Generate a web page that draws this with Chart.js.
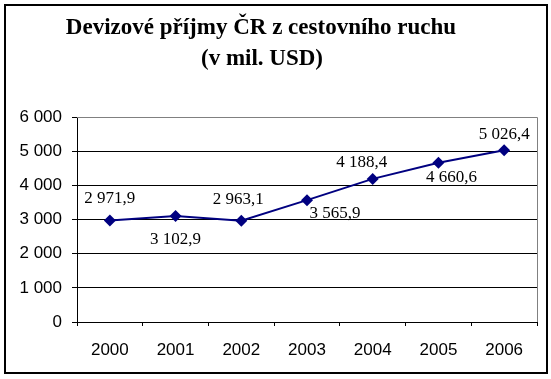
<!DOCTYPE html>
<html>
<head>
<meta charset="utf-8">
<script src="https://cdn.jsdelivr.net/npm/chart.js@4.4.1/dist/chart.umd.min.js"></script>
<style>
  html, body { margin: 0; padding: 0; background: #fff; }
  #wrap { position: relative; width: 551px; height: 379px; }
</style>
</head>
<body>
<div id="wrap"><canvas id="chart" width="551" height="379"></canvas></div>
<script>
// Dati: devizové příjmy ČR z cestovního ruchu (mil. USD)
const roky = ['2000', '2001', '2002', '2003', '2004', '2005', '2006'];
const prijmy = [2971.9, 3102.9, 2963.1, 3565.9, 4188.4, 4660.6, 5026.4];
const titulek = ['Devizové příjmy ČR z cestovního ruchu', '(v mil. USD)'];

// formát čísla: mezera jako oddělovač tisíců, čárka jako desetinná
function formatCZ(v, des) {
    const parts = v.toFixed(des).split('.');
    parts[0] = parts[0].replace(/\B(?=(\d{3})+(?!\d))/g, ' ');
    return parts.join(',');
}

// posun popisků vůči bodům (jako v Excelu: střídavě nad / pod)
const posunPopisku = [[0, -22], [0, 24], [-3, -21], [28, 13], [-11, -16], [13, 15], [0, -16]];

const ramecek = {
    id: 'ramecek',
    beforeDatasetsDraw(chart) {
        const { ctx, chartArea: a } = chart;
        ctx.save();
        ctx.strokeStyle = '#808080';
        ctx.lineWidth = 1;
        ctx.beginPath();
        ctx.moveTo(a.left, a.top + 0.5);
        ctx.lineTo(a.right + 0.5, a.top + 0.5);
        ctx.lineTo(a.right + 0.5, a.bottom);
        ctx.stroke();
        ctx.restore();
    },
    afterDraw(chart) {
        const ctx = chart.ctx;
        ctx.save();
        // vnější rámeček
        ctx.strokeStyle = '#000';
        ctx.lineWidth = 2;
        ctx.strokeRect(5, 5, 542, 368);
        // nadpis (ve středu celého obrázku, ne plochy grafu)
        ctx.fillStyle = '#000';
        ctx.font = 'bold 23px "Liberation Serif", "Times New Roman", serif';
        ctx.textAlign = 'center';
        ctx.textBaseline = 'alphabetic';
        ctx.fillText(titulek[0], 261, 34);
        ctx.fillText(titulek[1], 262, 65);
        ctx.restore();
    }
};

const popisky = {
    id: 'popisky',
    afterDatasetsDraw(chart) {
        const ctx = chart.ctx;
        const meta = chart.getDatasetMeta(0);
        ctx.save();
        ctx.font = '17px "Liberation Serif", "Times New Roman", serif';
        ctx.fillStyle = '#000';
        ctx.textAlign = 'center';
        ctx.textBaseline = 'middle';
        meta.data.forEach((pt, i) => {
            const [dx, dy] = posunPopisku[i];
            ctx.fillText(formatCZ(prijmy[i], 1), pt.x + dx, pt.y + dy);
        });
        ctx.restore();
    }
};

new Chart(document.getElementById('chart'), {
    type: 'line',
    data: {
        labels: roky,
        datasets: [{
            data: prijmy,
            borderColor: '#000080',
            backgroundColor: '#000080',
            borderWidth: 2,
            pointStyle: 'rectRot',
            pointRadius: 6,
            pointBorderWidth: 0,
            tension: 0
        }]
    },
    options: {
        responsive: false,
        animation: false,
        layout: { padding: { left: 0, right: 14, top: 117, bottom: 0 } },
        plugins: {
            legend: { display: false },
            tooltip: { enabled: false },
            title: { display: false }
        },
        scales: {
            x: {
                offset: true,
                grid: { display: true, drawOnChartArea: false, offset: true, tickLength: 4, color: '#000' },
                border: { color: '#000', width: 1 },
                ticks: { color: '#000', padding: 14, font: { family: '"Liberation Sans", Arial, sans-serif', size: 17 } },
                afterFit(s) { s.height = 57; }
            },
            y: {
                min: 0,
                max: 6000,
                ticks: {
                    stepSize: 1000,
                    color: '#000',
                    padding: 10,
                    font: { family: '"Liberation Sans", Arial, sans-serif', size: 17 },
                    callback: v => formatCZ(v, 0)
                },
                grid: { color: '#000', tickLength: 5 },
                border: { color: '#000', width: 1 },
                afterFit(s) { s.width = 77; }
            }
        }
    },
    plugins: [ramecek, popisky]
});
</script>
</body>
</html>
